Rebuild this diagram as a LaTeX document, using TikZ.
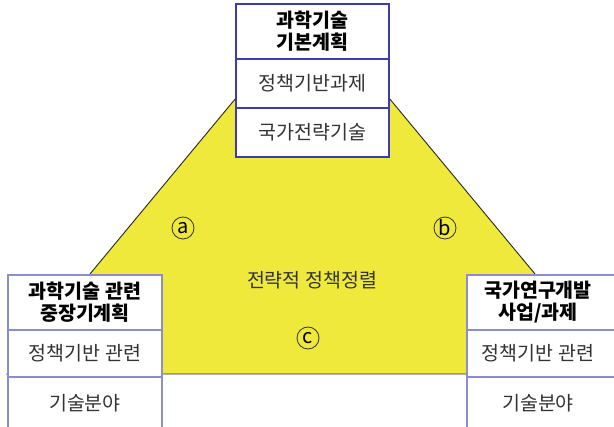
\documentclass[tikz,border=0pt]{standalone}
\usepackage{fontspec}
\setmainfont{Noto Sans CJK KR}
\definecolor{yel}{HTML}{EEE93B}
\definecolor{topblue}{HTML}{3C3CAA}
\definecolor{lav}{HTML}{8C8CD0}
\definecolor{txt}{HTML}{333333}
\begin{document}
\begin{tikzpicture}[x=1pt,y=-1pt,
  cell/.style={draw, fill=white, line width=1.1pt, inner sep=0pt, align=center,
     font=\fontsize{19.5}{22}\selectfont, text=txt},
  topcell/.style={cell, draw=topblue, minimum width=153pt},
  lowcell/.style={cell, draw=lav, minimum width=154pt},
  hdr/.style={font=\fontsize{19.5}{22}\selectfont\bfseries, text=black},
  plain/.style={font=\fontsize{19.5}{22}\selectfont, text=txt},
  circmark/.style={circle, draw=black!80, line width=0.8pt, minimum size=22pt, inner sep=0pt,
     font=\fontsize{20}{20}\selectfont, text=black}
]
\useasboundingbox (0,0) rectangle (614,427);
\clip (0,0) rectangle (614,427);
% yellow trapezoid
\coordinate (tl) at (236,98);
\coordinate (tr) at (389,98);
\coordinate (br) at (618,374);
\coordinate (bl) at (7,374);
\draw[fill=yel, draw=black!85, line width=0.9pt] (tl) -- (tr) -- (br) -- (bl) -- cycle;
% top box
\node[topcell, hdr, minimum height=55pt] (t1) at (312.5,31.5) {과학기술\\기본계획};
\node[topcell, minimum height=49pt] (t2) at (312.5,83.5) {정책기반과제};
\node[topcell, minimum height=49pt] (t3) at (312.5,132.5) {국가전략기술};
% left box
\node[lowcell, hdr, minimum height=55pt] (l1) at (85,302.5) {과학기술 관련\\중장기계획};
\node[lowcell, minimum height=47pt] (l2) at (85,353.5) {정책기반 관련};
\node[lowcell, minimum height=52pt] (l3) at (85,403) {기술분야};
% right box
\node[lowcell, minimum height=55pt] (r1) at (544,302.5) {};
\node[lowcell, minimum height=47pt] (r2) at (544,353.5) {};
\node[lowcell, minimum height=52pt] (r3) at (544,403) {};
\node[hdr, align=center] (r1t) at (538,302.5) {국가연구개발\\사업/과제};
\node[plain] (r2t) at (538,353.5) {정책기반 관련};
\node[plain] (r3t) at (538,403) {기술분야};
% centre labels
\node[plain] (mid) at (312,280) {전략적 정책정렬};
\node[circmark] (ma) at (183,228) {a};
\node[circmark] (mb) at (445,228) {b};
\node[circmark] (mc) at (308,338) {c};
\end{tikzpicture}
\end{document}
